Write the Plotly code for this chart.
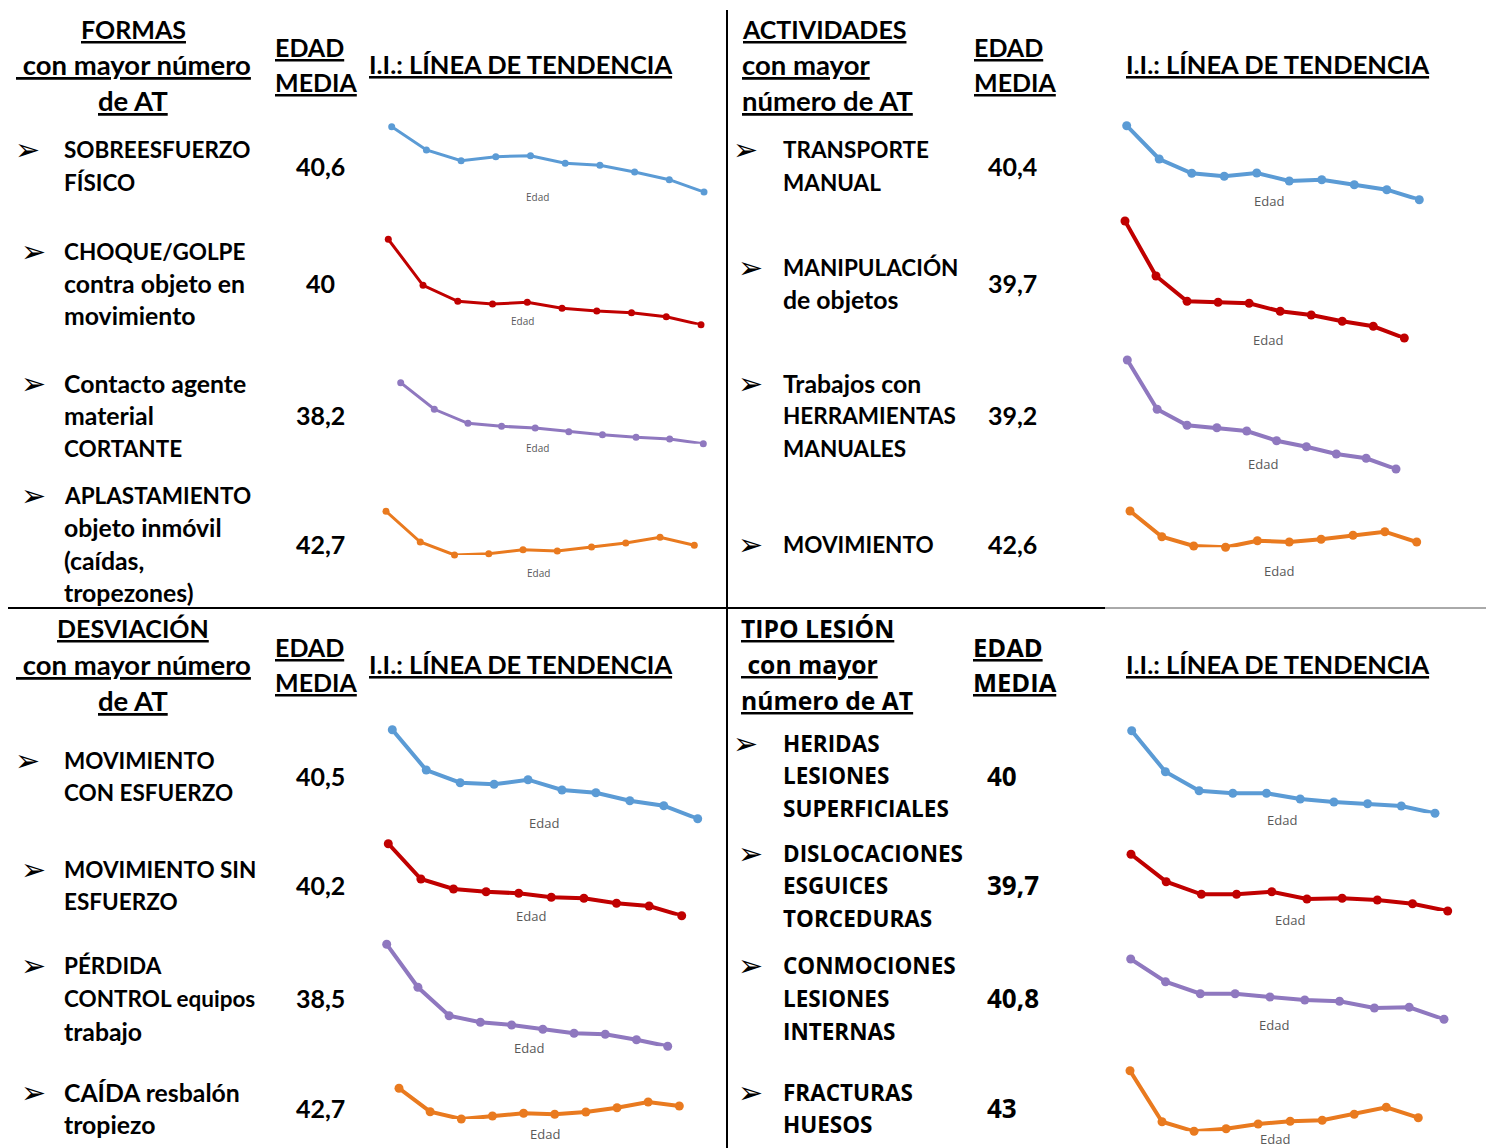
import plotly.graph_objects as go

# la página añade 8 px de margen: la figura empieza en (8, 8) de la captura
W, H = 1494, 1148
OFF = 8
FW, FH = W - 2 * OFF, H - OFF

# tramos de edad (eje x de cada mini gráfico)
tramos = list(range(10))

formas_sobreesfuerzo = [73.3, 50.0, 39.3, 43.3, 44.3, 36.7, 34.7, 28.0, 20.3, 8.0]
formas_choque = [90.7, 44.7, 28.7, 26.0, 27.7, 21.7, 19.0, 17.3, 13.3, 5.3]
formas_cortante = [67.3, 40.7, 26.7, 23.7, 22.0, 18.3, 15.3, 12.7, 11.0, 6.3]
formas_aplastamiento = [48.7, 18.0, 5.0, 6.3, 10.3, 9.0, 13.0, 17.0, 22.7, 14.7]

act_transporte = [79.3, 46.0, 31.7, 28.7, 32.0, 24.0, 25.3, 20.3, 15.3, 5.3]
act_manipulacion = [124.0, 69.0, 43.7, 42.7, 41.7, 33.7, 30.0, 23.7, 18.7, 7.0]
act_herramientas = [115.0, 65.7, 49.7, 47.3, 44.0, 34.3, 28.3, 21.0, 16.7, 6.0]
act_movimiento = [44.0, 18.3, 9.0, 7.7, 14.3, 13.0, 15.7, 19.7, 23.3, 13.0]

desv_con_esfuerzo = [95.3, 55.0, 42.3, 40.7, 45.3, 35.0, 32.3, 24.3, 19.3, 6.3]
desv_sin_esfuerzo = [76.3, 41.0, 31.0, 28.3, 26.7, 22.7, 21.7, 16.7, 14.0, 4.3]
desv_perdida_control = [105.7, 62.7, 34.3, 27.7, 25.0, 20.7, 16.7, 15.7, 10.3, 3.7]
desv_caida = [36.7, 13.3, 6.0, 9.0, 11.7, 10.7, 13.0, 17.3, 23.0, 19.0]

lesion_heridas = [89.3, 48.3, 29.3, 26.7, 26.7, 21.0, 18.0, 16.3, 14.0, 6.7]
lesion_dislocaciones = [60.7, 33.3, 20.7, 20.7, 23.3, 16.0, 16.7, 15.0, 11.3, 4.0]
lesion_conmociones = [66.0, 43.3, 31.3, 31.3, 28.0, 25.0, 23.7, 17.0, 17.7, 5.7]
lesion_fracturas = [64.3, 13.3, 3.7, 6.3, 11.0, 13.7, 14.7, 20.7, 27.7, 17.3]

# textos de cada bloque
formas_labels = [["SOBREESFUERZO", "FÍSICO"], ["CHOQUE/GOLPE", "contra objeto en", "movimiento"],
                 ["Contacto agente", "material", "CORTANTE"],
                 ["APLASTAMIENTO", "objeto inmóvil", "(caídas,", "tropezones)"]]
formas_edad = ["40,6", "40", "38,2", "42,7"]
act_labels = [["TRANSPORTE", "MANUAL"], ["MANIPULACIÓN", "de objetos"],
              ["Trabajos con", "HERRAMIENTAS", "MANUALES"], ["MOVIMIENTO"]]
act_edad = ["40,4", "39,7", "39,2", "42,6"]
desv_labels = [["MOVIMIENTO", "CON ESFUERZO"], ["MOVIMIENTO SIN", "ESFUERZO"],
               ["PÉRDIDA", "CONTROL equipos", "trabajo"], ["CAÍDA resbalón", "tropiezo"]]
desv_edad = ["40,5", "40,2", "38,5", "42,7"]
lesion_labels = [["HERIDAS", "LESIONES", "SUPERFICIALES"], ["DISLOCACIONES", "ESGUICES", "TORCEDURAS"],
                 ["CONMOCIONES", "LESIONES", "INTERNAS"], ["FRACTURAS", "HUESOS"]]
lesion_edad = ["40", "39,7", "40,8", "43"]

series = [formas_sobreesfuerzo, formas_choque, formas_cortante, formas_aplastamiento,
          act_transporte, act_manipulacion, act_herramientas, act_movimiento,
          desv_con_esfuerzo, desv_sin_esfuerzo, desv_perdida_control, desv_caida,
          lesion_heridas, lesion_dislocaciones, lesion_conmociones, lesion_fracturas]

colors = ["#5B9BD5", "#C00000", "#8F78BF", "#E97A1F"]

# posición en pixeles de cada mini gráfico: (x primer punto, x último punto, y arriba, y abajo)
boxes = [
    (391.7, 704.0, 126.7, 192.0), (388.3, 701.0, 239.3, 324.7),
    (400.7, 703.3, 382.7, 443.7), (386.0, 694.3, 511.3, 555.0),
    (1126.7, 1419.3, 125.7, 199.7), (1125.0, 1404.3, 221.0, 338.0),
    (1127.3, 1396.0, 360.0, 469.0), (1130.0, 1416.7, 511.0, 547.3),
    (392.3, 697.7, 729.7, 818.7), (388.3, 681.7, 843.7, 915.7),
    (386.7, 667.7, 944.3, 1046.3), (399.0, 679.3, 1088.3, 1119.0),
    (1131.7, 1435.0, 730.7, 813.3), (1131.0, 1447.7, 854.3, 911.0),
    (1130.7, 1444.0, 959.0, 1019.3), (1130.0, 1418.3, 1070.7, 1131.3),
]
edad_pos = [(537, 197), (522, 321), (537, 448), (538, 573),
            (1269, 201), (1268, 340), (1263, 464), (1279, 571),
            (544, 823), (531, 916), (529, 1048), (545, 1134),
            (1282, 820), (1290, 920), (1274, 1025), (1275, 1139)]


def px(x):
    return (x - OFF) / FW


def py(y):
    return 1 - (y - OFF) / FH


fig = go.Figure()
layout_axes = {}
annotations = []

for i, vals in enumerate(series):
    n = i + 1
    sfx = "" if n == 1 else str(n)
    x0, x1, yt, yb = boxes[i]
    small = i < 4
    fig.add_trace(go.Scatter(
        x=tramos, y=vals, mode="lines+markers",
        line=dict(color=colors[i % 4], width=3 if small else 4),
        marker=dict(size=7 if small else 9, color=colors[i % 4]),
        xaxis="x" + sfx, yaxis="y" + sfx, cliponaxis=False, hoverinfo="skip",
    ))
    layout_axes["xaxis" + sfx] = dict(domain=[px(x0), px(x1)], range=[0, 9], visible=False,
                                      anchor="y" + sfx)
    layout_axes["yaxis" + sfx] = dict(domain=[py(yb), py(yt)], range=[min(vals), max(vals)],
                                      visible=False, anchor="x" + sfx)
    ex, ey = edad_pos[i]
    annotations.append(dict(x=px(ex), y=py(ey), xref="paper", yref="paper", text="Edad",
                            showarrow=False, xanchor="center", yanchor="middle",
                            font=dict(family="Open Sans", size=10 if small else 13, color="#595959")))

NARROW = "Lato"
WIDE = "Open Sans"


def txt(x, y, text, size=25, xanchor="left", family=NARROW, underline=False):
    t = "<u>" + text + "</u>" if underline else text
    annotations.append(dict(x=px(x), y=py(y), xref="paper", yref="paper", text="<b>" + t + "</b>",
                            showarrow=False, xanchor=xanchor, yanchor="middle", align=xanchor,
                            font=dict(family=family, size=size, color="black")))


def mostly_lower(s):
    return sum(c.islower() for c in s) > sum(c.isupper() for c in s)


# cabeceras
txt(133, 29, "FORMAS", xanchor="center", underline=True)
txt(133, 64, "\u00a0con mayor número", size=27.5, xanchor="center", underline=True)
txt(133, 100, "de AT", size=27.5, xanchor="center", underline=True)
txt(740, 29, "ACTIVIDADES", underline=True)
txt(740, 64, "con mayor", size=27.5, underline=True)
txt(740, 100, "número de AT", size=27.5, underline=True)
txt(133, 628, "DESVIACIÓN", xanchor="center", underline=True)
txt(133, 664, "\u00a0con mayor número", size=27.5, xanchor="center", underline=True)
txt(133, 700, "de AT", size=27.5, xanchor="center", underline=True)
txt(739, 628, "TIPO LESIÓN", size=24.7, family=WIDE, underline=True)
txt(739, 664, "\u00a0con mayor", size=24.7, family=WIDE, underline=True)
txt(739, 700, "número de AT", size=24.7, family=WIDE, underline=True)

for (ex, ey, fam, sz) in [(273, 47, NARROW, 25), (972, 47, NARROW, 25),
                          (273, 647, NARROW, 25), (971, 647, WIDE, 25.5)]:
    txt(ex, ey, "EDAD", size=sz, family=fam, underline=True)
    txt(ex, ey + 35, "MEDIA", size=sz, family=fam, underline=True)

for (tx, ty) in [(367, 64), (1124, 64), (367, 664), (1124, 664)]:
    txt(tx, ty, "I.I.: LÍNEA DE TENDENCIA", size=25.5, underline=True)

# filas
LINE = 32.5
blocks = [
    (formas_labels, formas_edad, [150, 251, 383, 495], [166, 283, 415, 544], 62, [27, 33, 33, 33], 320, "center", NARROW),
    (act_labels, act_edad, [150, 267, 383, 544], [166, 283, 415, 544], 781, [745, 751, 751, 751], 986, "left", NARROW),
    (desv_labels, desv_edad, [760, 869, 966, 1092], [776, 885, 998, 1108], 62, [27, 33, 33, 33], 320, "center", NARROW),
    (lesion_labels, lesion_edad, [743, 853, 966, 1092], [776, 885, 998, 1108], 781, [745, 751, 751, 751], 985, "left", WIDE),
]
for labels, edades, firsts, vys, lx, arrows_x, vx, vanchor, fam in blocks:
    for lines, ed, fy, vy, ax in zip(labels, edades, firsts, vys, arrows_x):
        for k, line in enumerate(lines):
            if fam == WIDE:
                sz = 22.5
            else:
                sz = 24.8 if mostly_lower(line) else 22.5
            txt(lx, fy + k * LINE, line, size=sz, family=fam)
        annotations.append(dict(x=px(ax), y=py(fy), xref="paper", yref="paper", text="➢",
                                showarrow=False, xanchor="center", yanchor="middle",
                                font=dict(family="DejaVu Sans", size=30, color="black")))
        txt(vx, vy, ed, size=25 if fam == NARROW else 26, xanchor=vanchor, family=fam)

shapes = [
    dict(type="line", xref="paper", yref="paper", x0=px(727), x1=px(727), y0=py(10), y1=py(1148),
         line=dict(color="black", width=2)),
    dict(type="line", xref="paper", yref="paper", x0=px(8), x1=px(1105), y0=py(608), y1=py(608),
         line=dict(color="black", width=2)),
    dict(type="line", xref="paper", yref="paper", x0=px(1105), x1=px(1494), y0=py(608), y1=py(608),
         line=dict(color="#555555", width=1)),
]

fig.update_layout(
    width=FW, height=FH, margin=dict(l=0, r=0, t=0, b=0),
    paper_bgcolor="white", plot_bgcolor="white", showlegend=False,
    annotations=annotations, shapes=shapes, **layout_axes,
)

fig.write_html("out.html")
